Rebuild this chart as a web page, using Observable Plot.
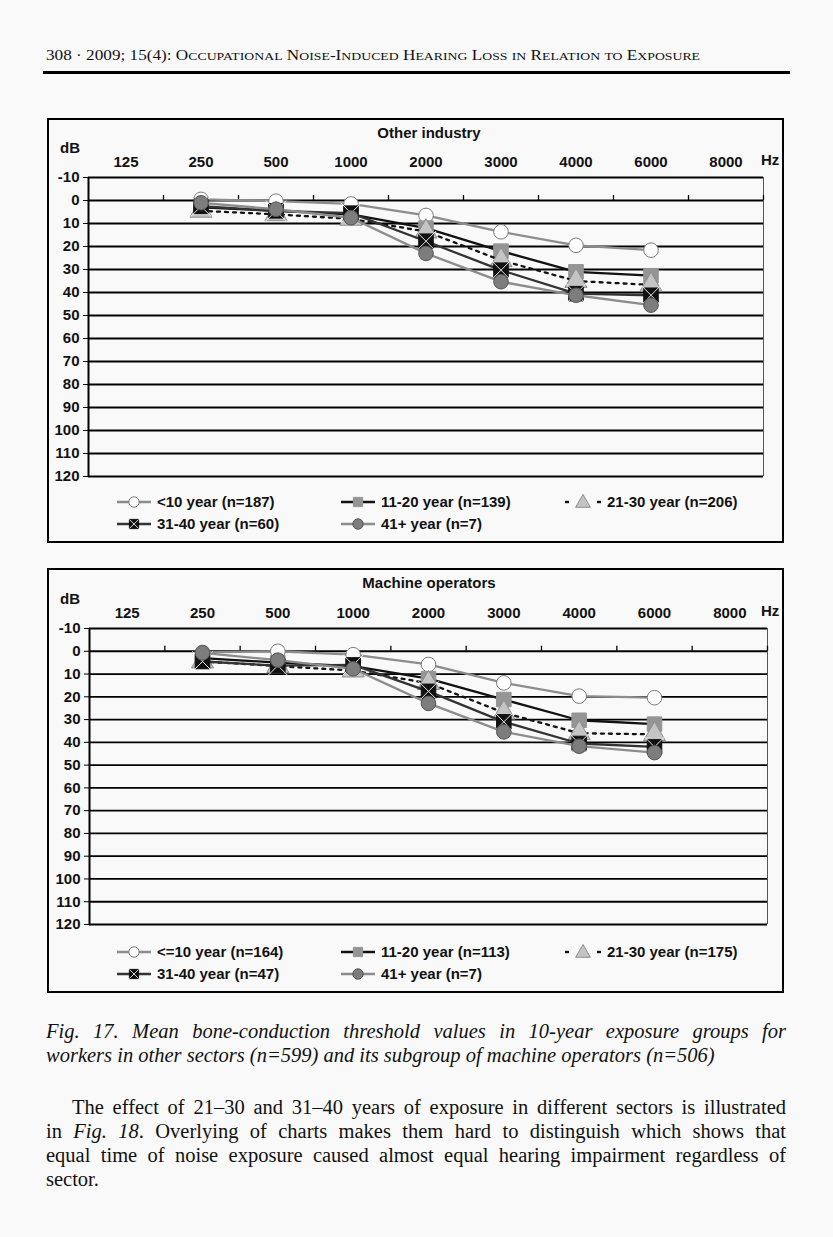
<!DOCTYPE html>
<html>
<head>
<meta charset="utf-8">
<script src="https://cdn.jsdelivr.net/npm/d3@7"></script>
<script src="https://cdn.jsdelivr.net/npm/@observablehq/plot@0.6"></script>
<style>
  html, body { margin: 0; padding: 0; background: #f9f9f9; overflow: hidden; }
  body { width: 833px; height: 1237px; position: relative; }
  .abs { position: absolute; }
  .header { left: 46px; top: 48px; font-family: "Liberation Serif", "DejaVu Serif", serif; font-size: 14px; color: #111; white-space: nowrap; transform-origin: 0 0; }
  .header .sm { font-size: 11.2px; }
  .rule { left: 43px; top: 71px; width: 747px; height: 3px; background: #000; }
  .frame { border: 2px solid #000; box-sizing: border-box; background: #f9f9f9; }
  .ctext { font-family: "Liberation Sans", Arial, sans-serif; font-weight: bold; font-size: 15px; color: #111; white-space: nowrap; }
  .legend-item { display: flex; align-items: center; }
  .legend-item svg { margin-right: 6px; }
  .para { font-family: "Liberation Serif", "DejaVu Serif", serif; font-size: 20.5px; color: #111; }
  .para .line { display: block; text-align: justify; text-align-last: justify; white-space: nowrap; height: 24px; line-height: 24px; }
  .para .line.last { text-align-last: left; }
  .cap { font-style: italic; }
</style>
</head>
<body>
<div id="header" class="abs header"></div>
<div class="abs rule"></div>

<div id="charts"></div>

<div class="abs para cap" style="left:46px; top:1019px; width:740px;">
  <span class="line">Fig. 17. Mean bone-conduction threshold values in 10-year exposure groups for</span>
  <span class="line last">workers in other sectors (n=599) and its subgroup of machine operators (n=506)</span>
</div>
<div class="abs para" style="left:46px; top:1095px; width:740px;">
  <span class="line" style="padding-left:26px;">The effect of 21–30 and 31–40 years of exposure in different sectors is illustrated</span>
  <span class="line">in <i>Fig. 18</i>. Overlying of charts makes them hard to distinguish which shows that</span>
  <span class="line">equal time of noise exposure caused almost equal hearing impairment regardless of</span>
  <span class="line last">sector.</span>
</div>

<script>
// ---------- DATA ----------
const freqLabels = ["125", "250", "500", "1000", "2000", "3000", "4000", "6000", "8000"];
const dataFreqs = ["250", "500", "1000", "2000", "3000", "4000", "6000"];
const yTicks = [-10, 0, 10, 20, 30, 40, 50, 60, 70, 80, 90, 100, 110, 120];

// Other industry (dB threshold)
const otherLabels = ["<10 year (n=187)", "11-20 year (n=139)", "21-30 year (n=206)", "31-40 year (n=60)", "41+ year (n=7)"];
const other_lt10  = [-0.5, 0.3, 1.5, 6.5, 13.6, 19.5, 21.6];
const other_11_20 = [3, 4.5, 6, 12, 22, 31, 32.7];
const other_21_30 = [4.5, 6, 8, 13.5, 26, 35, 36.7];
const other_31_40 = [2.5, 4.5, 5.5, 17.7, 30.3, 40.5, 41.2];
const other_41p   = [1, 3.8, 7.5, 23, 35.3, 41.2, 45.5];

// Machine operators (dB threshold)
const machLabels = ["<=10 year (n=164)", "11-20 year (n=113)", "21-30 year (n=175)", "31-40 year (n=47)", "41+ year (n=7)"];
const mach_le10  = [0.5, 0, 1.5, 5.8, 13.9, 19.7, 20.4];
const mach_11_20 = [3, 5, 6.5, 12, 21.2, 30.3, 32];
const mach_21_30 = [4.5, 6.5, 8.5, 14, 27, 36, 36.5];
const mach_31_40 = [4.5, 6.3, 6, 17.6, 31, 40.5, 42];
const mach_41p   = [0.7, 3.9, 7.7, 22.9, 35.4, 41.7, 44.5];

// ---------- HEADER (small caps built by hand) ----------
const headerPrefix = "308 · 2009; 15(4): ";
const headerTitle = "Occupational Noise-Induced Hearing Loss in Relation to Exposure";
(function () {
  const h = document.getElementById("header");
  h.appendChild(document.createTextNode(headerPrefix));
  headerTitle.split("").forEach(ch => {
    if (ch === ch.toUpperCase()) h.appendChild(document.createTextNode(ch));
    else { const s = document.createElement("span"); s.className = "sm"; s.textContent = ch.toUpperCase(); h.appendChild(s); }
  });
  const w = h.getBoundingClientRect().width;
  h.style.transform = `scaleX(${654 / w})`;
})();

// ---------- STYLES ----------
const styles = [
  {stroke: "#8c8c8c", dash: null,  symbol: "circle",   fill: "#ffffff", mstroke: "#7a7a7a", r: 7.3},
  {stroke: "#111111", dash: null,  symbol: "square",   fill: "#959595", mstroke: "#959595", r: 8.2},
  {stroke: "#111111", dash: "3,5", symbol: "triangle", fill: "#c4c4c4", mstroke: "#8c8c8c", r: 8.2},
  {stroke: "#333333", dash: null,  symbol: "square",   fill: "#111111", mstroke: "#111111", r: 8.2, cross: true},
  {stroke: "#8c8c8c", dash: null,  symbol: "circle",   fill: "#7d7d7d", mstroke: "#555555", r: 7.3}
];

const charts = [
  {title: "Other industry", labels: otherLabels, series: [other_lt10, other_11_20, other_21_30, other_31_40, other_41p],
   frame: {left: 47, top: 118, width: 737, height: 425},
   plot: {left: 88, right: 763, top: 177, bottom: 476},
   titleX: 429},
  {title: "Machine operators", labels: machLabels, series: [mach_le10, mach_11_20, mach_21_30, mach_31_40, mach_41p],
   frame: {left: 47, top: 568, width: 737, height: 425},
   plot: {left: 89, right: 767, top: 628, bottom: 924},
   titleX: 429}
];

const container = document.getElementById("charts");

function el(tag, cls, style, text) {
  const e = document.createElement(tag);
  if (cls) e.className = cls;
  if (style) Object.assign(e.style, style);
  if (text != null) e.textContent = text;
  return e;
}

function swatch(st, w) {
  const ns = "http://www.w3.org/2000/svg";
  const svg = document.createElementNS(ns, "svg");
  svg.setAttribute("width", w); svg.setAttribute("height", 16);
  const cx = w / 2, cy = 8;
  const segs = st.dash ? [[0, 4], [w - 4, w]] : [[0, w]];
  segs.forEach(([a, b]) => {
    const line = document.createElementNS(ns, "line");
    line.setAttribute("x1", a); line.setAttribute("x2", b);
    line.setAttribute("y1", cy); line.setAttribute("y2", cy);
    line.setAttribute("stroke", st.stroke); line.setAttribute("stroke-width", 2.4);
    svg.appendChild(line);
  });
  const sym = {circle: d3.symbolCircle, square: d3.symbolSquare, triangle: d3.symbolTriangle}[st.symbol];
  const p = document.createElementNS(ns, "path");
  p.setAttribute("d", d3.symbol(sym, st.symbol === "triangle" ? 95 : 85)());
  p.setAttribute("transform", `translate(${cx},${cy + (st.symbol === "triangle" ? 1 : 0)})`);
  p.setAttribute("fill", st.fill); p.setAttribute("stroke", st.mstroke);
  svg.appendChild(p);
  if (st.cross) {
    const q = document.createElementNS(ns, "path");
    q.setAttribute("d", "M-4.5,-4.5L4.5,4.5M4.5,-4.5L-4.5,4.5");
    q.setAttribute("transform", `translate(${cx},${cy})`);
    q.setAttribute("stroke", "#fff"); q.setAttribute("stroke-width", 0.8);
    svg.appendChild(q);
  }
  return svg;
}

charts.forEach(c => {
  // frame
  container.appendChild(el("div", "abs frame", {left: c.frame.left + "px", top: c.frame.top + "px", width: c.frame.width + "px", height: c.frame.height + "px"}));

  // title & unit labels
  container.appendChild(el("div", "abs ctext", {left: c.titleX + "px", top: (c.frame.top + 6) + "px", transform: "translateX(-50%)"}, c.title));
  container.appendChild(el("div", "abs ctext", {left: (c.frame.left + 13) + "px", top: (c.plot.top - 38) + "px"}, "dB"));
  container.appendChild(el("div", "abs ctext", {left: (c.frame.left + 714) + "px", top: (c.plot.top - 26) + "px"}, "Hz"));

  // data rows
  const rows = c.series.flatMap((vals, si) => dataFreqs.map((f, i) => ({s: si, x: freqLabels.indexOf(f) + 0.5, y: vals[i]})));

  const mTop = 30, mBot = 6;
  const width = 833;
  const height = mTop + (c.plot.bottom - c.plot.top) + mBot;

  const marks = [
    Plot.gridY(yTicks, {stroke: "#000", strokeOpacity: 1, strokeWidth: 1.8}),
    Plot.ruleX([9], {stroke: "#555", strokeWidth: 1}),
    Plot.ruleX([0], {stroke: "#000", strokeWidth: 2}),
    Plot.ruleX(d3.range(1, 10), {y1: 0, y2: -2.2, stroke: "#000", strokeWidth: 1.3}),
    Plot.axisY(yTicks, {tickSize: 5, tickPadding: 4, label: null, tickFormat: d => String(d), stroke: "#000"}),
    Plot.axisX(d3.range(9).map(i => i + 0.5), {anchor: "top", tickSize: 0, tickPadding: 11, label: null, tickFormat: d => freqLabels[Math.floor(d)]})
  ];

  styles.forEach((st, si) => {
    const d = rows.filter(r => r.s === si);
    marks.push(Plot.line(d, {x: "x", y: "y", stroke: st.stroke, strokeWidth: 2.3, strokeDasharray: st.dash}));
    marks.push(Plot.dot(d, {x: "x", y: "y", symbol: st.symbol, r: st.r, fill: st.fill, stroke: st.mstroke, strokeWidth: 1}));
    if (st.cross) marks.push(Plot.dot(d, {x: "x", y: "y", symbol: "times", r: 9.3, stroke: "#fff", strokeWidth: 0.9}));
  });

  const chart = Plot.plot({
    width, height,
    marginLeft: c.plot.left, marginRight: width - c.plot.right,
    marginTop: mTop, marginBottom: mBot,
    x: {domain: [0, 9], axis: null},
    y: {domain: [-10, 120], reverse: true, axis: null},
    style: {background: "transparent", fontFamily: "Liberation Sans, Arial, sans-serif", fontSize: "15px", fontWeight: "bold", color: "#111", overflow: "visible"},
    marks
  });
  chart.classList.add("abs");
  chart.style.left = "0px";
  chart.style.top = (c.plot.top - mTop) + "px";
  chart.style.maxWidth = "none";
  container.appendChild(chart);

  // legend
  const colsX = [c.frame.left + 70, c.frame.left + 294, c.frame.left + 518];
  const rowsY = [c.frame.top + 375, c.frame.top + 397];
  c.labels.forEach((lab, i) => {
    const st = styles[i];
    const item = el("div", "abs ctext legend-item", {left: colsX[i % 3] + "px", top: rowsY[Math.floor(i / 3)] + "px"});
    item.appendChild(swatch(st, st.dash ? 36 : 34));
    item.appendChild(el("span", null, null, lab));
    container.appendChild(item);
  });
});
</script>
</body>
</html>
